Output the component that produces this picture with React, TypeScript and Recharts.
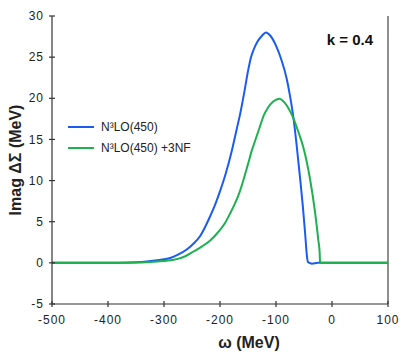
import React from "react";
import {
  LineChart,
  Line,
  XAxis,
  YAxis,
  Legend,
  ReferenceLine,
} from "recharts";

// omega (MeV) and Imag ΔΣ (MeV) for k = 0.4
const omegaN3LO = [
  -500, -400, -360, -340, -320, -300, -289, -275, -260, -248, -236, -227,
  -218, -208, -199, -190, -179, -170, -164, -157, -150, -145, -140, -133,
  -125, -118, -110, -100, -90, -81, -75, -69, -63, -57, -52, -48, -45, -43,
  -40, -36, -25, 100,
];
const imagN3LO = [
  0, 0, 0.03, 0.1, 0.25, 0.45, 0.6, 1.0, 1.6, 2.3, 3.2, 4.3, 5.6, 7.2, 8.9,
  10.8, 13.6, 16.3, 18.1, 20.6, 23.3, 24.9, 25.9, 26.9, 27.6, 28.0, 27.6,
  26.4, 24.6, 22.4, 20.3, 17.7, 14.2, 10.3, 6.8, 3.6, 1.0, 0.1, 0, -0.1, 0, 0,
];

const omegaN3LO3NF = [
  -500, -400, -340, -320, -300, -277, -262, -248, -232, -218, -205, -191,
  -182, -173, -165, -158, -150, -143, -137, -130, -122, -115, -105, -94, -85,
  -77, -69, -60, -51, -39, -30, -24.5, -22, -21.4, -20, 100,
];
const imagN3LO3NF = [
  0, 0, 0.05, 0.12, 0.22, 0.45, 0.8, 1.35, 2.0, 2.7, 3.6, 4.85, 6.0, 7.25,
  8.6, 10.1, 12.0, 13.7, 14.9, 16.3, 17.9, 18.8, 19.6, 19.95, 19.5, 18.7,
  17.6, 15.9, 14.0, 10.1, 6.0, 2.8, 1.2, 0.2, 0, 0,
];

const xTicks = [-500, -400, -300, -200, -100, 0, 100];
const yTicks = [-5, 0, 5, 10, 15, 20, 25, 30];

const seriesN3LO = omegaN3LO.map((w, i) => ({ w, v: imagN3LO[i] }));
const seriesN3LO3NF = omegaN3LO3NF.map((w, i) => ({ w, v: imagN3LO3NF[i] }));

const FONT = "'Liberation Sans', Arial, sans-serif";
const AXIS = "#333";

const XTick = (props: any) => {
  const { x, y, payload } = props;
  const axisY = y - 11;
  return (
    <g>
      <line x1={x} x2={x} y1={axisY - 3} y2={axisY + 3} stroke={AXIS} strokeWidth={1.2} />
      <text
        x={x}
        y={y}
        dy="0.71em"
        textAnchor="middle"
        fontFamily={FONT}
        fontSize={12}
        letterSpacing={1}
        fill="#222"
      >
        {payload.value}
      </text>
    </g>
  );
};

const YTick = (props: any) => {
  const { x, y, payload } = props;
  const axisX = x + 8;
  return (
    <g>
      <line x1={axisX - 3} x2={axisX + 3} y1={y} y2={y} stroke={AXIS} strokeWidth={1.2} />
      <text
        x={x}
        y={y}
        dy="0.35em"
        textAnchor="end"
        fontFamily={FONT}
        fontSize={12}
        letterSpacing={1}
        fill="#222"
      >
        {payload.value}
      </text>
    </g>
  );
};

const YTitle = ({ viewBox }: any) => {
  const cx = viewBox.x + 15.5;
  const cy = viewBox.y + viewBox.height / 2;
  return (
    <text
      x={cx}
      y={cy}
      transform={`rotate(-90, ${cx}, ${cy})`}
      textAnchor="middle"
      dominantBaseline="central"
      fontFamily={FONT}
      fontWeight="bold"
      fontSize={16}
      fill="#222"
    >
      Imag ΔΣ (MeV)
    </text>
  );
};

const XTitle = ({ viewBox }: any) => (
  <text
    x={viewBox.x + 197}
    y={viewBox.y + 38}
    textAnchor="middle"
    dominantBaseline="central"
    fontFamily={FONT}
    fontWeight="bold"
    fontSize={16}
    fill="#222"
  >
    ω (MeV)
  </text>
);

const LegendBox = ({ payload }: any) => (
  <div style={{ fontFamily: FONT, fontSize: 12, color: "#222" }}>
    {(payload || []).map((p: any) => (
      <div key={p.value} style={{ display: "flex", alignItems: "center", height: 21 }}>
        <svg width={30} height={4} style={{ marginRight: 4 }}>
          <line x1={1} x2={27} y1={2} y2={2} stroke={p.color} strokeWidth={2} />
        </svg>
        <span>{p.value}</span>
      </div>
    ))}
  </div>
);

const App = () => {
  return (
    <div style={{ position: "absolute", left: 0, top: 0, width: 408, height: 364, background: "#fff" }}>
      <LineChart width={408} height={364} margin={{ top: 16, right: 20, bottom: 0, left: 0 }}>
        <XAxis
          dataKey="w"
          type="number"
          domain={[-500, 100]}
          ticks={xTicks}
          allowDuplicatedCategory={false}
          height={60}
          tickLine={false}
          tickSize={3}
          tickMargin={8}
          tick={<XTick />}
          stroke={AXIS}
          strokeWidth={1.2}
          label={<XTitle />}
        />
        <YAxis
          type="number"
          domain={[-5, 30]}
          ticks={yTicks}
          width={52}
          tickLine={false}
          tickSize={3}
          tickMargin={5}
          tick={<YTick />}
          stroke={AXIS}
          strokeWidth={1.2}
          label={<YTitle />}
        />
        <ReferenceLine x={100} stroke="#444" strokeWidth={1.2} />
        <Legend
          layout="horizontal"
          verticalAlign="middle"
          align="center"
          content={<LegendBox />}
          wrapperStyle={{ left: 67, top: 116, width: "auto", height: "auto" }}
        />
        <Line
          data={seriesN3LO}
          dataKey="v"
          name="N³LO(450)"
          type="monotone"
          stroke="#1a5cf0"
          strokeWidth={2}
          dot={false}
          isAnimationActive={false}
        />
        <Line
          data={seriesN3LO3NF}
          dataKey="v"
          name="N³LO(450) +3NF"
          type="monotone"
          stroke="#1db150"
          strokeWidth={2}
          dot={false}
          isAnimationActive={false}
        />
        <text
          x={350}
          y={39}
          textAnchor="middle"
          dominantBaseline="central"
          fontFamily={FONT}
          fontWeight="bold"
          fontSize={15}
          fill="#111"
        >
          k = 0.4
        </text>
      </LineChart>
    </div>
  );
};

export default App;
